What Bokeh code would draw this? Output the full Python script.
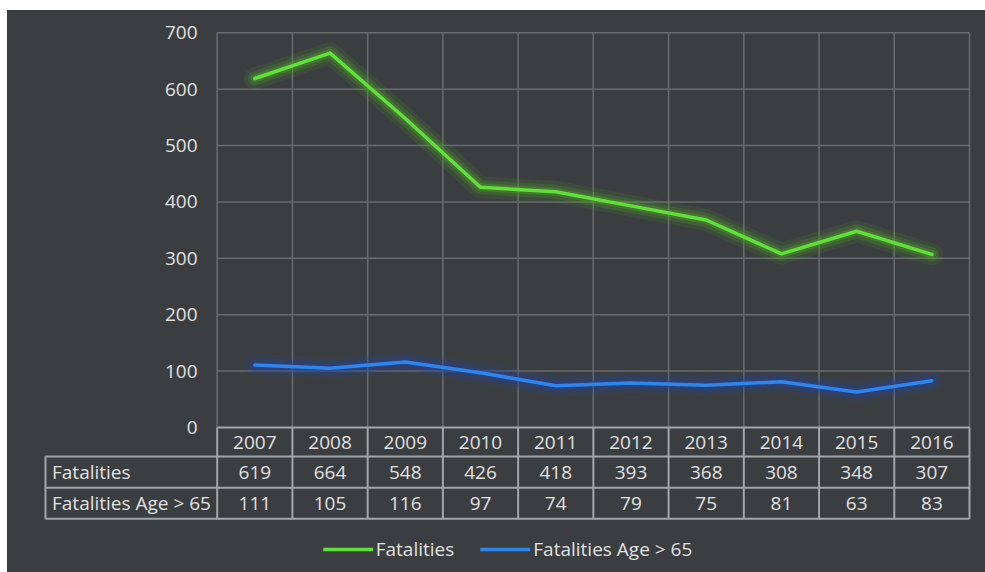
from bokeh.plotting import figure
from bokeh.models import Range1d, FixedTicker, Legend, LegendItem, Spacer
from bokeh.layouts import row, column
from bokeh.core.properties import value
from bokeh.embed import file_html
from bokeh.resources import INLINE

# ---- data ----
years = ["2007", "2008", "2009", "2010", "2011", "2012", "2013", "2014", "2015", "2016"]
fatalities = [619, 664, 548, 426, 418, 393, 368, 308, 348, 307]
fatalities_65 = [111, 105, 116, 97, 74, 79, 75, 81, 63, 83]
y_ticks = [0, 100, 200, 300, 400, 500, 600, 700]
series_names = ["Fatalities", "Fatalities Age > 65"]

# ---- layout constants (page pixels) ----
BG = "#3b3e40"
GRID = "#6a6d6f"
BORDER = "#a3a6a8"
TXT = "#e0e0e0"
FONT = value("Open Sans")
FS = "19px"
GREEN = "#5fe03a"
GREEN_GLOW = "#4e9a2a"
BLUE = "#2d86ec"
BLUE_GLOW = "#24449a"

ox, oy = 7, 10                 # canvas origin on page
col_left_px = 216.7
col_w = 75.23
y0_px = 427.0
ppu = (427.0 - 32.3) / 700.0   # px per data unit
fl, fr, ft, fb = 40, 975, 22, 572   # frame edges on page

x_start = -0.5 - (col_left_px - fl) / col_w
x_end = 9.5 + (fr - (col_left_px + 10 * col_w)) / col_w
y_start = -(fb - y0_px) / ppu
y_end = (y0_px - ft) / ppu

# table row boundaries in data units
r0 = 0.0
r1 = -(456.0 - y0_px) / ppu
r2 = -(487.3 - y0_px) / ppu
r3 = -(518.3 - y0_px) / ppu
tbl_left = -0.5 - (col_left_px - 45.0) / col_w

W = 985 - ox
H = 572 - oy
p = figure(width=W, height=H, output_backend="svg", toolbar_location=None,
           x_range=Range1d(x_start, x_end), y_range=Range1d(y_start, y_end),
           min_border_left=fl - ox, min_border_right=985 - fr,
           min_border_top=ft - oy, min_border_bottom=0)
p.background_fill_color = BG
p.border_fill_color = BG
p.outline_line_color = None
p.xgrid.visible = False
p.ygrid.visible = False
p.xaxis.visible = False

yax = p.yaxis[0]
yax.ticker = FixedTicker(ticks=y_ticks)
yax.fixed_location = -0.5 - 19.7 / col_w
yax.axis_line_color = None
yax.major_tick_line_color = None
yax.minor_tick_line_color = None
yax.major_tick_out = 0
yax.major_tick_in = 0
yax.major_label_standoff = 0
yax.major_label_text_font = "Open Sans"
yax.major_label_text_font_size = FS
yax.major_label_text_color = TXT

xi = list(range(len(years)))
bounds = [i - 0.5 for i in range(len(years) + 1)]

# gridlines in chart area
hy = [t for t in y_ticks if t > 0]
p.segment(x0=[-0.5] * len(hy), x1=[9.5] * len(hy), y0=hy, y1=hy, line_color=GRID, line_width=1.5)
p.segment(x0=bounds, x1=bounds, y0=[0] * len(bounds), y1=[700] * len(bounds), line_color=GRID, line_width=1.5)

# glow + lines
for vals, c, g in [(fatalities, GREEN, GREEN_GLOW), (fatalities_65, BLUE, BLUE_GLOW)]:
    for w, a in [(22, 0.14), (14, 0.24), (8, 0.4)]:
        p.line(xi, vals, line_color=g, line_width=w, line_alpha=a, line_join="round", line_cap="round")
r_f = p.line(xi, fatalities, line_color=GREEN, line_width=3.5, line_join="round", line_cap="round")
r_b = p.line(xi, fatalities_65, line_color=BLUE, line_width=3.5, line_join="round", line_cap="round")

# table borders
hx0 = [-0.5, tbl_left, tbl_left, tbl_left]
hx1 = [9.5] * 4
hyy = [r0, r1, r2, r3]
p.segment(x0=hx0, x1=hx1, y0=hyy, y1=hyy, line_color=BORDER, line_width=2)
p.segment(x0=bounds, x1=bounds, y0=[r0] * len(bounds), y1=[r3] * len(bounds), line_color=BORDER, line_width=2)
p.segment(x0=[tbl_left], x1=[tbl_left], y0=[r1], y1=[r3], line_color=BORDER, line_width=2)

# table texts
p.text(x=xi, y=[(r0 + r1) / 2] * 10, text=years, text_align="center", text_baseline="middle",
       text_font=FONT, text_font_size=FS, text_color=TXT)
p.text(x=xi, y=[(r1 + r2) / 2] * 10, text=[str(v) for v in fatalities], text_align="center",
       text_baseline="middle", text_font=FONT, text_font_size=FS, text_color=TXT)
p.text(x=xi, y=[(r2 + r3) / 2] * 10, text=[str(v) for v in fatalities_65], text_align="center",
       text_baseline="middle", text_font=FONT, text_font_size=FS, text_color=TXT)
lab_x = tbl_left + 6.5 / col_w
p.text(x=[lab_x, lab_x], y=[(r1 + r2) / 2, (r2 + r3) / 2], text=series_names, text_align="left",
       text_baseline="middle", text_font=FONT, text_font_size=FS, text_color=TXT)

legend = Legend(items=[LegendItem(label=series_names[0], renderers=[r_f]),
                       LegendItem(label=series_names[1], renderers=[r_b])],
                orientation="horizontal", location="bottom_center")
legend.background_fill_alpha = 0
legend.border_line_color = None
legend.label_text_font = "Open Sans"
legend.label_text_font_size = FS
legend.label_text_color = TXT
legend.glyph_width = 50
legend.label_standoff = 3
legend.spacing = 26
legend.padding = 4
legend.margin = 10
p.add_layout(legend)

inner = column(p, styles={"background-color": BG})
layout = row(Spacer(width=ox), column(Spacer(height=oy), inner))
open("out.html", "w").write(file_html(layout, INLINE))
